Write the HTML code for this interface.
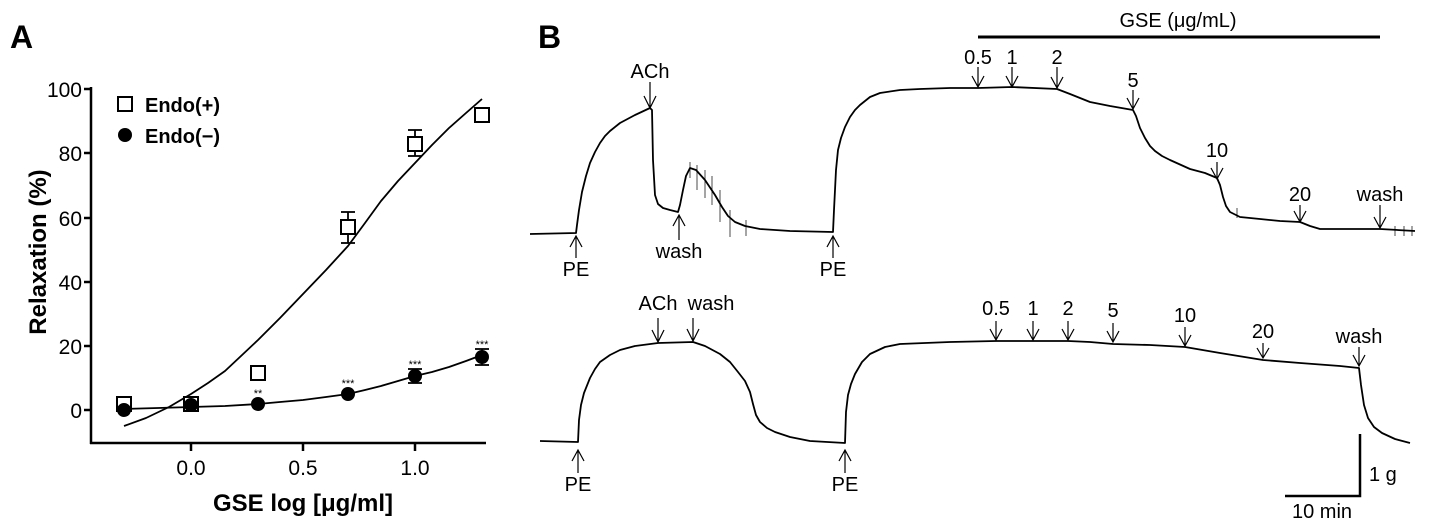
<!DOCTYPE html>
<html><head><meta charset="utf-8"><style>
html,body{margin:0;padding:0;background:#fff}
svg{display:block}
text{font-family:"Liberation Sans",Arial,sans-serif;fill:#000}
</style></head><body>
<svg width="1430" height="527" viewBox="0 0 1430 527" xmlns="http://www.w3.org/2000/svg">
<text x="10" y="48" font-size="32" font-weight="bold">A</text>
<text x="538" y="48" font-size="32" font-weight="bold">B</text>

<g stroke="#000" stroke-width="2.5" fill="none">
<line x1="91" y1="87" x2="91" y2="444"/>
<line x1="90" y1="443" x2="486" y2="443"/>
<line x1="84" y1="89" x2="91" y2="89"/>
<line x1="84" y1="153" x2="91" y2="153"/>
<line x1="84" y1="218" x2="91" y2="218"/>
<line x1="84" y1="282" x2="91" y2="282"/>
<line x1="84" y1="346" x2="91" y2="346"/>
<line x1="84" y1="410" x2="91" y2="410"/>
<line x1="191" y1="443" x2="191" y2="451"/>
<line x1="303" y1="443" x2="303" y2="451"/>
<line x1="415" y1="443" x2="415" y2="451"/>
</g>
<g font-size="21" text-anchor="end">
<text x="82" y="97">100</text>
<text x="82" y="161">80</text>
<text x="82" y="226">60</text>
<text x="82" y="290">40</text>
<text x="82" y="354">20</text>
<text x="82" y="418">0</text>
</g>
<g font-size="21" text-anchor="middle">
<text x="191" y="475">0.0</text>
<text x="303" y="475">0.5</text>
<text x="415" y="475">1.0</text>
</g>
<text x="303" y="511" font-size="24" font-weight="bold" text-anchor="middle">GSE log [μg/ml]</text>
<text transform="translate(46,252) rotate(-90)" font-size="24" font-weight="bold" text-anchor="middle">Relaxation (%)</text>
<rect x="118" y="97" width="14" height="14" fill="#fff" stroke="#000" stroke-width="2"/>
<text x="145" y="112" font-size="20" font-weight="bold">Endo(+)</text>
<circle cx="125" cy="135" r="7"/>
<text x="145" y="143" font-size="20" font-weight="bold">Endo(−)</text>
<polyline fill="none" stroke="#000" stroke-width="1.8" stroke-linejoin="round" points="124,426 146,418 169,407 191,394 208,383 225,371 241,356 258,340 280,318 303,294 326,270 348,246 365,223 381,201 398,181 415,163 432,145 449,128 466,113 482,99"/>
<polyline fill="none" stroke="#000" stroke-width="1.8" stroke-linejoin="round" points="124,409 158,408 191,407 225,406 258,404 280,402 303,400 326,397 348,394 365,390 381,386 398,381 415,376 432,372 449,367 466,361 482,355"/>
<g stroke="#000" stroke-width="1.8">
<line x1="348" y1="212" x2="348" y2="243"/><line x1="341" y1="212" x2="355" y2="212"/><line x1="341" y1="243" x2="355" y2="243"/>
<line x1="415" y1="130" x2="415" y2="156"/><line x1="408" y1="130" x2="422" y2="130"/><line x1="408" y1="156" x2="422" y2="156"/>
<line x1="415" y1="369" x2="415" y2="383"/><line x1="408" y1="369" x2="422" y2="369"/><line x1="408" y1="383" x2="422" y2="383"/>
<line x1="482" y1="349" x2="482" y2="365"/><line x1="475" y1="349" x2="489" y2="349"/><line x1="475" y1="365" x2="489" y2="365"/>
</g>
<g fill="#fff" stroke="#000" stroke-width="2">
<rect x="117" y="397" width="14" height="14"/>
<rect x="184" y="397" width="14" height="14"/>
<rect x="251" y="366" width="14" height="14"/>
<rect x="341" y="220" width="14" height="14"/>
<rect x="408" y="137" width="14" height="14"/>
<rect x="475" y="108" width="14" height="14"/>
</g>
<g fill="#000">
<circle cx="124" cy="410" r="7"/><circle cx="191" cy="405" r="7"/><circle cx="258" cy="404" r="7"/>
<circle cx="348" cy="394" r="7"/><circle cx="415" cy="376" r="7"/><circle cx="482" cy="357" r="7"/>
</g>
<g font-size="11" text-anchor="middle" fill="#333">
<text x="258" y="397">**</text>
<text x="348" y="387">***</text>
<text x="415" y="368">***</text>
<text x="482" y="348">***</text>
</g>

<polyline fill="none" stroke="#000" stroke-width="1.8" stroke-linejoin="round" points="530,234 576,233 577,225 579,210 582,192 586,176 590,163 595,152 600,143 605,136 610,131 620,123 635,115 650,108 652,110 653,160 655,195 658,204 663,208 670,210 678,212 680,205 683,190 686,176 690,168 696,170 705,180 715,195 722,207 728,216 735,222 745,226 760,229 790,231 833,232 834,210 836,170 838,150 841,138 845,127 850,117 855,110 860,105 870,97 880,93 900,90 920,89 950,88 978,88 1012,87 1057,89 1070,94 1090,102 1110,106 1133,110 1136,116 1140,128 1145,138 1150,146 1155,151 1162,156 1170,160 1190,169 1205,173 1217,178 1220,185 1223,197 1226,206 1230,212 1240,217 1260,219 1280,221 1300,222 1310,226 1320,229 1380,229 1415,231"/>
<g stroke="#000" stroke-width="1" opacity="0.7">
<line x1="690" y1="162" x2="690" y2="178"/><line x1="697" y1="165" x2="697" y2="190"/><line x1="705" y1="170" x2="705" y2="198"/>
<line x1="712" y1="176" x2="712" y2="205"/><line x1="720" y1="190" x2="720" y2="222"/><line x1="730" y1="210" x2="730" y2="237"/><line x1="746" y1="220" x2="746" y2="236"/>
<line x1="1237" y1="208" x2="1237" y2="218"/><line x1="1395" y1="226" x2="1395" y2="236"/><line x1="1404" y1="226" x2="1404" y2="236"/><line x1="1412" y1="226" x2="1412" y2="236"/>
</g>
<polyline fill="none" stroke="#000" stroke-width="1.8" stroke-linejoin="round" points="540,441 578,442 579,420 581,405 584,393 590,378 595,369 600,362 610,355 620,350 635,346 658,343 693,342 705,346 720,354 730,362 738,372 745,381 750,392 753,404 756,415 760,422 767,428 775,432 790,437 810,441 845,443 846,412 848,395 851,384 855,374 862,362 870,354 885,347 900,344 950,342 996,341 1033,341 1068,341 1090,342 1113,344 1150,345 1185,347 1220,353 1263,360 1300,363 1340,366 1359,368 1361,385 1364,405 1368,418 1374,427 1382,433 1395,439 1410,443"/>

<line x1="978" y1="37" x2="1380" y2="37" stroke="#000" stroke-width="3"/>
<text x="1178" y="27" font-size="20" text-anchor="middle">GSE (μg/mL)</text>

<g stroke="#000" stroke-width="1.2" fill="none">
<path d="M650,82 V108 M644,96 L650,108 L656,96"/>
<path d="M978,67 V87 M972,76 L978,87 L984,76"/>
<path d="M1012,67 V87 M1006,76 L1012,87 L1018,76"/>
<path d="M1057,67 V88 M1051,77 L1057,88 L1063,77"/>
<path d="M1133,90 V109 M1127,98 L1133,109 L1139,98"/>
<path d="M1217,162 V179 M1211,168 L1217,179 L1223,168"/>
<path d="M1300,205 V222 M1294,211 L1300,222 L1306,211"/>
<path d="M1380,205 V228 M1374,217 L1380,228 L1386,217"/>
<path d="M576,258 V236 M570,247 L576,236 L582,247"/>
<path d="M679,240 V215 M673,226 L679,215 L685,226"/>
<path d="M833,258 V236 M827,247 L833,236 L839,247"/>
<path d="M658,318 V342 M652,330 L658,342 L664,330"/>
<path d="M693,318 V341 M687,329 L693,341 L699,329"/>
<path d="M996,321 V340 M990,329 L996,340 L1002,329"/>
<path d="M1033,321 V340 M1027,329 L1033,340 L1039,329"/>
<path d="M1068,321 V340 M1062,329 L1068,340 L1074,329"/>
<path d="M1113,323 V342 M1107,331 L1113,342 L1119,331"/>
<path d="M1185,327 V346 M1179,335 L1185,346 L1191,335"/>
<path d="M1263,343 V358 M1257,348 L1263,358 L1269,348"/>
<path d="M1359,347 V366 M1353,355 L1359,366 L1365,355"/>
<path d="M578,473 V450 M572,461 L578,450 L584,461"/>
<path d="M845,473 V450 M839,461 L845,450 L851,461"/>
</g>
<g font-size="20" text-anchor="middle">
<text x="650" y="78">ACh</text>
<text x="978" y="64">0.5</text>
<text x="1012" y="64">1</text>
<text x="1057" y="64">2</text>
<text x="1133" y="87">5</text>
<text x="1217" y="157">10</text>
<text x="1300" y="201">20</text>
<text x="1380" y="201">wash</text>
<text x="576" y="276">PE</text>
<text x="679" y="258">wash</text>
<text x="833" y="276">PE</text>
<text x="658" y="310">ACh</text>
<text x="711" y="310">wash</text>
<text x="996" y="315">0.5</text>
<text x="1033" y="315">1</text>
<text x="1068" y="315">2</text>
<text x="1113" y="317">5</text>
<text x="1185" y="322">10</text>
<text x="1263" y="338">20</text>
<text x="1359" y="343">wash</text>
<text x="578" y="491">PE</text>
<text x="845" y="491">PE</text>
<text x="1322" y="518">10 min</text>
</g>
<text x="1369" y="481" font-size="20">1 g</text>
<g stroke="#000" stroke-width="2.5" fill="none">
<path d="M1285,496 H1360 V434"/>
</g>
</svg>
</body></html>
